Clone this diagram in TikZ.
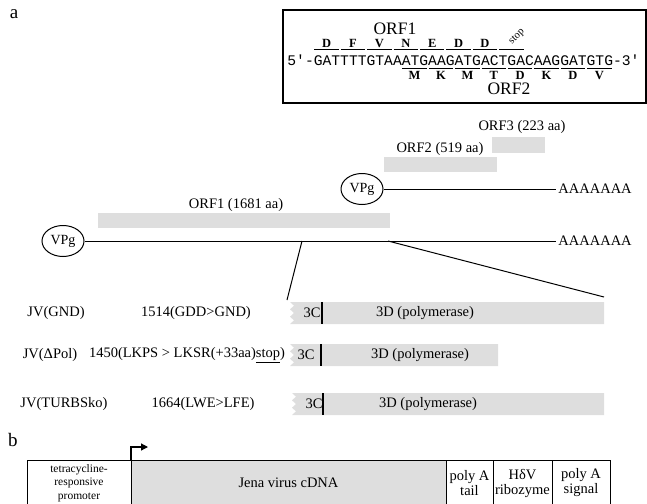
\documentclass[tikz,border=0pt]{standalone}
\usepackage{fontspec}
\setmainfont{Liberation Serif}
\setmonofont{Liberation Mono}
\usetikzlibrary{arrows.meta,positioning,shapes.geometric}

\begin{document}
\begin{tikzpicture}[
  x=1pt,y=-1pt,
  line width=0.8pt,
  every node/.style={font=\fontsize{14.5}{16}\selectfont},
  panel/.style={font=\fontsize{19}{20}\selectfont},
  orflabel/.style={font=\fontsize{17.5}{18}\selectfont},
  orfbar/.style={fill=black!13},
  vpg/.style={ellipse,draw,line width=1pt,minimum width=42pt,minimum height=31pt,
    inner sep=0pt,font=\fontsize{14}{15}\selectfont},
  genome/.style={line width=1pt},
  aminoacid/.style={font=\bfseries\fontsize{12.5}{13}\selectfont,inner sep=0pt},
  codon/.style={line width=0.6pt},
  cell/.style={draw,line width=1pt,minimum height=46pt,inner sep=1pt,outer sep=0pt,
    anchor=north west,align=center}
]
  \clip (0,0) rectangle (647,503);

  % Panel a: the overlap of ORF1 and ORF2.
  \node[panel] (pa) at (14,14) {a};
  \draw[line width=1.2pt] (283,10) rectangle (646,103);
  \node[font=\ttfamily\fontsize{14.67}{16}\selectfont,inner sep=0pt,anchor=base west]
    (seq) at (287,66) {5′-GATTTTGTAAATGAAGATGACTGACAAGGATGTG-3′};
  \node[orflabel] (orf1box) at (395,29) {ORF1};
  \node[orflabel] (orf2box) at (509,89) {ORF2};
  \foreach \aa [count=\i from 0] in {D,F,V,N,E,D,D} {
    \draw[codon] ({287+(3+3*\i)*8.8+1},49.5) -- ({287+(6+3*\i)*8.8-1},49.5);
    \node[aminoacid,anchor=base] (orf1aa\i) at ({287+(4.5+3*\i)*8.8},47.5) {\aa};
  }
  \draw[codon] ({287+24*8.8+1},49.5) -- ({287+27*8.8-1},49.5);
  \node[font=\fontsize{10.5}{11}\selectfont,inner sep=0pt,rotate=45] (stop) at (517,37) {stop};
  \foreach \aa [count=\i from 0] in {M,K,M,T,D,K,D,V} {
    \draw[codon] ({287+(13+3*\i)*8.8+1},68.5) -- ({287+(16+3*\i)*8.8-1},68.5);
    \node[aminoacid,anchor=base] (orf2aa\i) at ({287+(14.5+3*\i)*8.8},79) {\aa};
  }

  % Genome and the three reading frames.
  \fill[orfbar] (492,137) rectangle (545,153);
  \node (orf3) at (522,127) {ORF3 (223 aa)};
  \fill[orfbar] (384,157) rectangle (497,172);
  \node (orf2) at (440,149) {ORF2 (519 aa)};
  \node[vpg] (vpg2) at (362,189) {VPg};
  \node[anchor=west,inner sep=2pt] (polyA2) at (556,189) {AAAAAAA};
  \draw[genome] (vpg2) -- (polyA2);
  \fill[orfbar] (98,213) rectangle (390,228);
  \node (orf1) at (236,205) {ORF1 (1681 aa)};
  \node[vpg] (vpg1) at (63,241) {VPg};
  \node[anchor=west,inner sep=2pt] (polyA1) at (556,241) {AAAAAAA};
  \draw[genome] (vpg1) -- (polyA1);

  % Enlarged 3C/3D region.
  \coordinate (foldL) at (302,241);
  \coordinate (foldR) at (388,241);
  \coordinate (zoomL) at (287,300);
  \coordinate (zoomR) at (604,297);
  \draw[genome] (foldL) -- (zoomL);
  \draw[genome] (foldR) -- (zoomR);
  \foreach \n/\y/\xs/\xe/\xc/\xt/\xd in {1/313/290/604/322/312/425,
      2/355/290/498/321/306/420, 3/404/292/604/323/314/428} {
    \fill[orfbar] (\xs,\y-11) \foreach \k in {1,2,3} { -- ++(4,3.67) -- ++(-4,3.67) }
      -- (\xe,\y+11) -- (\xe,\y-11) -- cycle;
    \draw[line width=1.2pt] (\xc,\y-11) -- (\xc,\y+11);
    \node (c3\n) at (\xt,\y) {3C};
    \node (d3\n) at (\xd,\y) {3D (polymerase)};
  }
  \node (jvgnd) at (56,313) {JV(GND)};
  \node (mutgnd) at (196,313) {1514(GDD>GND)};
  \node (jvpol) at (50,355) {JV(ΔPol)};
  \node (mutpol) at (187,355) {1450(LKPS > LKSR(+33aa)\underline{stop})};
  \node (jvturbs) at (64,404) {JV(TURBSko)};
  \node (mutturbs) at (203,404) {1664(LWE>LFE)};

  % Panel b: the cDNA construct.
  \node[panel] (pb) at (13,440) {b};
  \node[cell,minimum width=104pt,font=\fontsize{11.5}{13.5}\selectfont] (prom)
    at (27,460) {tetracycline-\\responsive\\promoter};
  \node[cell,right=0pt of prom,fill=black!13,minimum width=315pt] (cdna) {Jena virus cDNA};
  \node[cell,right=0pt of cdna,minimum width=47pt,font=\fontsize{14.5}{15}\selectfont]
    (tail) {poly A\\tail};
  \node[cell,right=0pt of tail,minimum width=59pt,font=\fontsize{14.5}{15}\selectfont]
    (ribo) {HδV\\ribozyme};
  \node[cell,right=0pt of ribo,minimum width=58pt,font=\fontsize{14.5}{15}\selectfont]
    (signal) {poly A\\signal};
  \coordinate (tssbend) at (131,447);
  \coordinate (tsstip) at (148,447);
  \draw[line width=1.2pt,-{Triangle[length=7pt,width=7pt]}]
    (prom.north east) -- (tssbend) -- (tsstip);
\end{tikzpicture}
\end{document}
